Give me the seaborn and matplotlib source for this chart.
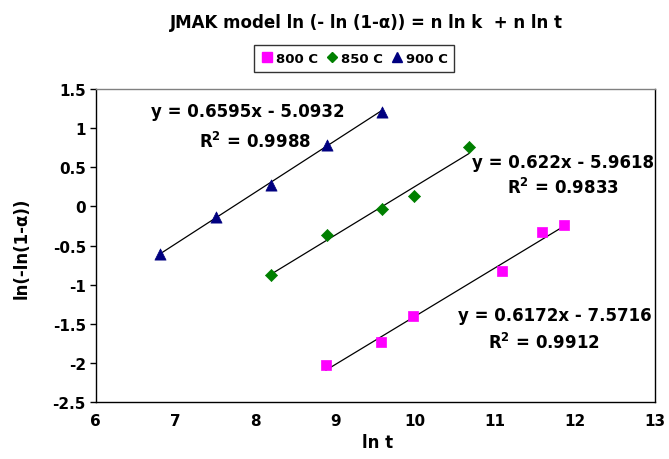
import numpy as np
import pandas as pd
import matplotlib
matplotlib.use("Agg")
import matplotlib.pyplot as plt
import seaborn as sns

# ---- data ----
series_names = ["800 C", "850 C", "900 C"]

x_800 = [8.88, 9.57, 9.97, 11.08, 11.58, 11.86]
y_800 = [-2.03, -1.73, -1.40, -0.82, -0.33, -0.23]

x_850 = [8.19, 8.89, 9.58, 9.98, 10.67]
y_850 = [-0.87, -0.37, -0.03, 0.14, 0.76]

x_900 = [6.80, 7.50, 8.19, 8.89, 9.58]
y_900 = [-0.61, -0.14, 0.27, 0.79, 1.21]

# trendline coefficients as printed on the chart
slopes = [0.6172, 0.622, 0.6595]
intercepts = [-7.5716, -5.9618, -5.0932]
eq_labels = ["y = 0.6172x - 7.5716", "y = 0.622x - 5.9618", "y = 0.6595x - 5.0932"]
r2_labels = [r"R$^{\mathbf{2}}$ = 0.9912", r"R$^{\mathbf{2}}$ = 0.9833", r"R$^{\mathbf{2}}$ = 0.9988"]

x_ticks = [6, 7, 8, 9, 10, 11, 12, 13]
y_ticks = [-2.5, -2, -1.5, -1, -0.5, 0, 0.5, 1, 1.5]

colors = ["#FF00FF", "#008000", "#000080"]
markers = ["s", "D", "^"]
msizes = [55, 38, 65]

sns.set_theme(style="white")
plt.rcParams["font.family"] = ["DejaVu Sans"]
plt.rcParams["font.weight"] = "bold"
plt.rcParams["mathtext.default"] = "bf"
for k in ["text.color", "axes.labelcolor", "xtick.color", "ytick.color", "axes.edgecolor"]:
    plt.rcParams[k] = "black"

W, H = 669, 460
fig = plt.figure(figsize=(W / 100, H / 100), dpi=100)
ax = fig.add_axes([95.7 / W, 1 - 403.3 / H, (655 - 95.7) / W, (403.3 - 90) / H])

xs = [x_800, x_850, x_900]
ys = [y_800, y_850, y_900]

handles = []
for name, xv, yv, c, m, s, a, b in zip(series_names, xs, ys, colors, markers, msizes, slopes, intercepts):
    xl = np.array([min(xv), max(xv)])
    ax.plot(xl, a * xl + b, color="black", lw=0.9, zorder=2)
    df = pd.DataFrame({"x": xv, "y": yv})
    sns.scatterplot(data=df, x="x", y="y", ax=ax, color=c, marker=m, s=s,
                    edgecolor=c, linewidth=0.5, zorder=3, legend=False)
    handles.append(plt.Line2D([], [], ls="", marker=m, color=c, markersize=6.5 if m != "D" else 5.5))

# equation annotations (centres in figure pixels)
ann_pos = [((555, 316), (544, 343)), ((563, 163), (563, 188)), ((248, 112), (255, 142))]
for (p1, p2), e, r in zip(ann_pos, eq_labels, r2_labels):
    fig.text(p1[0] / W, 1 - p1[1] / H, e, ha="center", va="center",
             fontsize=12, fontweight="bold", color="black")
    fig.text(p2[0] / W, 1 - p2[1] / H, r, ha="center", va="center",
             fontsize=12, fontweight="bold", color="black")

ax.set_xlim(6, 13)
ax.set_ylim(-2.5, 1.5)
ax.set_xticks(x_ticks)
ax.set_yticks(y_ticks)
ax.set_xticklabels([str(t) for t in x_ticks], fontsize=11, fontweight="bold")
ax.set_yticklabels([f"{t:g}" for t in y_ticks], fontsize=11, fontweight="bold")
ax.tick_params(axis="y", direction="out", length=4, width=1, color="black", pad=3, left=True)
ax.tick_params(axis="x", length=0, pad=8)
ax.set_xlabel("ln t", fontsize=12, fontweight="bold")
ax.set_ylabel("ln(-ln(1-α))", fontsize=12, fontweight="bold")
ax.xaxis.set_label_coords((378 - 95.7) / (655 - 95.7), (403.3 - 443) / (403.3 - 90))
ax.xaxis.label.set_va("center")
ax.yaxis.set_label_coords((22 - 95.7) / (655 - 95.7), (403.3 - 248) / (403.3 - 90))
ax.yaxis.label.set_va("center")

for side in ["left", "bottom", "right"]:
    ax.spines[side].set_color("black")
    ax.spines[side].set_linewidth(1.0)
ax.spines["top"].set_color("#808080")
ax.spines["top"].set_linewidth(1.0)
ax.grid(False)

fig.text(366 / W, 1 - 23 / H, "JMAK model ln (- ln (1-α)) = n ln k  + n ln t",
         ha="center", va="center", fontsize=12, fontweight="bold", color="black")

leg = fig.legend(handles, series_names, loc="center", bbox_to_anchor=(354 / W, 1 - 59.5 / H),
                 ncol=3, frameon=True, fancybox=False, handletextpad=0.15,
                 columnspacing=0.6, borderpad=0.5, handlelength=1.0,
                 prop={"weight": "bold", "size": 9.5})
leg.get_frame().set_edgecolor("black")
leg.get_frame().set_linewidth(1.0)
for t in leg.get_texts():
    t.set_color("black")

fig.savefig("out.png", dpi=100)
